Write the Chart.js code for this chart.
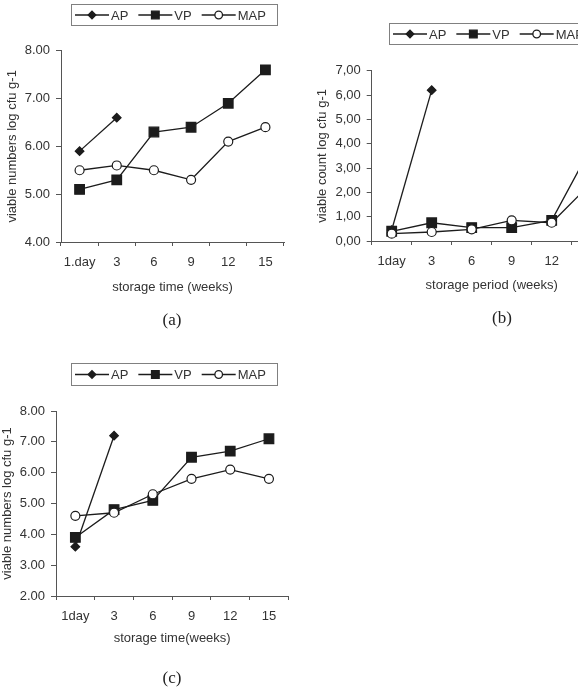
<!DOCTYPE html>
<html>
<head>
<meta charset="utf-8">
<script src="https://cdn.jsdelivr.net/npm/chart.js@4.4.1/dist/chart.umd.min.js"></script>
<style>
html, body { margin: 0; padding: 0; background: #fff; }
body { width: 578px; height: 697px; overflow: hidden; position: relative; }
canvas { position: absolute; }
.tag { position: absolute; font-family: "Liberation Serif", serif; font-size: 17px; color: #222; transform: translate(-50%, -50%); }
</style>
</head>
<body>
<canvas id="chartA" width="300" height="340" style="left:0;top:0"></canvas>
<canvas id="chartB" width="340" height="340" style="left:290px;top:0"></canvas>
<canvas id="chartC" width="300" height="347" style="left:0;top:350px"></canvas>
<div class="tag" style="left:172px;top:320px">(a)</div>
<div class="tag" style="left:502px;top:318px">(b)</div>
<div class="tag" style="left:172px;top:678px">(c)</div>
<script>
// weeks of storage
const weeksA = ['1.day', '3', '6', '9', '12', '15'];
const weeksB = ['1day', '3', '6', '9', '12', '15'];
const weeksC = ['1day', '3', '6', '9', '12', '15'];

// (a) viable numbers, log cfu g-1
const apA = [5.9, 6.6, null, null, null, null];
const vpA = [5.1, 5.3, 6.3, 6.4, 6.9, 7.6];
const mapA = [5.5, 5.6, 5.5, 5.3, 6.1, 6.4];

// (b) viable count, log cfu g-1
const apB = [0.45, 6.2, null, null, null, null];
const vpB = [0.4, 0.75, 0.55, 0.55, 0.85, 3.9];
const mapB = [0.3, 0.37, 0.48, 0.85, 0.75, 2.4];

// (c) viable numbers, log cfu g-1
const apC = [3.6, 7.2, null, null, null, null];
const vpC = [3.9, 4.8, 5.1, 6.5, 6.7, 7.1];
const mapC = [4.6, 4.7, 5.3, 5.8, 6.1, 5.8];

// y axis ticks
const yTicksA = [4, 5, 6, 7, 8];
const yTicksB = [0, 1, 2, 3, 4, 5, 6, 7];
const yTicksC = [2, 3, 4, 5, 6, 7, 8];

const ink = '#1c1c1c';
const axisColor = '#555';
const textColor = '#333';
const font = { family: '"Liberation Sans", Arial, sans-serif', size: 13 };

function drawMark(ctx, style, x, y, r, fill) {
    ctx.beginPath();
    if (style === 'rectRot') {
        ctx.moveTo(x - r, y); ctx.lineTo(x, y - r); ctx.lineTo(x + r, y); ctx.lineTo(x, y + r);
        ctx.closePath();
    } else if (style === 'rect') {
        const s = r * Math.SQRT1_2;
        ctx.rect(x - s, y - s, 2 * s, 2 * s);
    } else {
        ctx.arc(x, y, r, 0, Math.PI * 2);
    }
    ctx.fillStyle = fill;
    ctx.fill();
    ctx.stroke();
}

// framed legend with line-marker-line entries
const boxLegend = {
    id: 'boxLegend',
    afterDraw(chart, args, opts) {
        const ctx = chart.ctx;
        ctx.save();
        ctx.strokeStyle = '#808080';
        ctx.lineWidth = 1;
        ctx.strokeRect(opts.x + 0.5, opts.y + 0.5, opts.w, opts.h);
        const cy = opts.y + opts.h / 2 + 0.5;
        let cx = opts.x + 4;
        ctx.font = '13px "Liberation Sans", Arial, sans-serif';
        ctx.textBaseline = 'middle';
        chart.data.datasets.forEach(d => {
            ctx.strokeStyle = ink;
            ctx.lineWidth = 1.3;
            ctx.beginPath();
            ctx.moveTo(cx, cy);
            ctx.lineTo(cx + 34, cy);
            ctx.stroke();
            const r = d.pointStyle === 'rect' ? 5.4 : 3.8;
            drawMark(ctx, d.pointStyle, cx + 17, cy, r, d.pointBackgroundColor);
            ctx.fillStyle = textColor;
            ctx.fillText(d.label, cx + 36, cy + 1);
            cx += 36 + ctx.measureText(d.label).width + 10;
        });
        ctx.restore();
    }
};

function series(label, data, style, radius, fill, order) {
    return {
        label: label,
        data: data,
        order: order,
        borderColor: ink,
        borderWidth: 1.3,
        pointStyle: style,
        pointRadius: radius,
        pointHoverRadius: radius,
        pointBackgroundColor: fill,
        pointBorderColor: ink,
        pointBorderWidth: 1.2,
        tension: 0
    };
}

function buildChart(id, labels, ap, vp, map, yTicks, cfg) {
    const canvas = document.getElementById(id);
    const W = canvas.width, H = canvas.height;
    const fmt = v => cfg.comma ? v.toFixed(2).replace('.', ',') : v.toFixed(2);
    return new Chart(canvas, {
        type: 'line',
        data: {
            labels: labels,
            datasets: [
                series('AP', ap, 'rectRot', 4.3, ink, 2),
                series('VP', vp, 'rect', 6.8, ink, 1),
                series('MAP', map, 'circle', 4.5, '#fff', 0)
            ]
        },
        options: {
            responsive: false,
            animation: false,
            layout: { padding: { left: 0, top: cfg.area.t, right: W - cfg.area.r, bottom: 0 } },
            plugins: {
                legend: { display: false },
                tooltip: { enabled: false },
                boxLegend: cfg.legend
            },
            scales: {
                x: {
                    offset: true,
                    grid: { offset: true, drawOnChartArea: false, tickLength: 4, color: axisColor },
                    border: { color: axisColor, width: 1 },
                    ticks: { color: textColor, font: font, padding: 9, maxRotation: 0, autoSkip: false },
                    title: { display: true, text: cfg.xTitle, color: textColor, font: font,
                             padding: { top: 0, bottom: H - cfg.xTitleY - 7.8 } },
                    afterFit: s => { s.height = H - cfg.area.b; }
                },
                y: {
                    min: yTicks[0],
                    max: yTicks[yTicks.length - 1],
                    grid: { drawOnChartArea: false, tickLength: 5, color: axisColor },
                    border: { color: axisColor, width: 1 },
                    ticks: { stepSize: 1, color: textColor, font: font, padding: 6, callback: v => fmt(v) },
                    title: { display: true, text: cfg.yTitle, color: textColor, font: font,
                             padding: { top: Math.max(0, cfg.yTitleX - 7.8), bottom: 0 } },
                    afterFit: s => { s.width = cfg.area.l; }
                }
            }
        },
        plugins: [boxLegend]
    });
}

buildChart('chartA', weeksA, apA, vpA, mapA, yTicksA, {
    area: { l: 61, r: 284, t: 50.7, b: 242 },
    legend: { x: 71, y: 4, w: 206, h: 21 },
    xTitle: 'storage time (weeks)', xTitleY: 287,
    yTitle: 'viable numbers log cfu g-1', yTitleX: 12
});

buildChart('chartB', weeksB, apB, vpB, mapB, yTicksB, {
    comma: true,
    area: { l: 81.7, r: 321.7, t: 70.7, b: 241 },
    legend: { x: 99, y: 23, w: 206, h: 21 },
    xTitle: 'storage period (weeks)', xTitleY: 285,
    yTitle: 'viable count log cfu g-1', yTitleX: 32
});

buildChart('chartC', weeksC, apC, vpC, mapC, yTicksC, {
    area: { l: 56, r: 288.3, t: 61, b: 246 },
    legend: { x: 71, y: 13, w: 206, h: 22 },
    xTitle: 'storage time(weeks)', xTitleY: 288.3,
    yTitle: 'viable numbers log cfu g-1', yTitleX: 7.5
});
</script>
</body>
</html>
